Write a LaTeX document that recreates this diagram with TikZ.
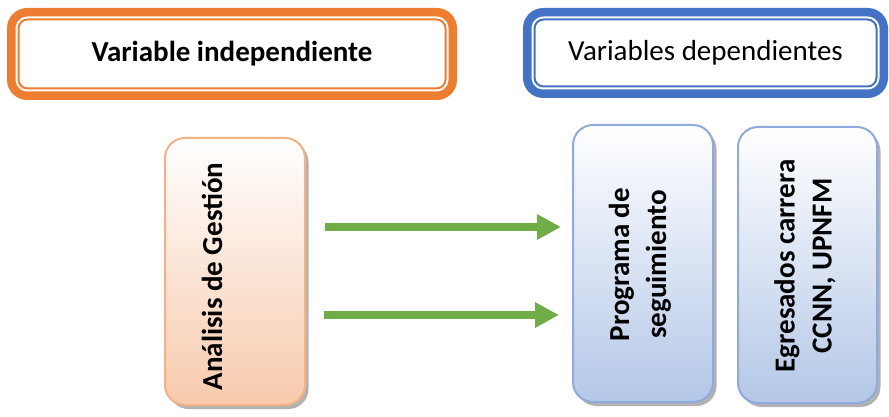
\documentclass[tikz,border=0pt]{standalone}
\usepackage{fontspec}
\setmainfont{Carlito}
\usetikzlibrary{arrows.meta,shadows}
\definecolor{hdrorange}{HTML}{ED7D31}
\definecolor{hdrblue}{HTML}{4472C4}
\definecolor{arrowgreen}{HTML}{70AD47}
\definecolor{peachline}{HTML}{F4B183}
\definecolor{peachfill}{HTML}{F7CAAC}
\definecolor{blueline}{HTML}{8FAADC}
\definecolor{bluefill}{HTML}{B4C7E7}
\tikzset{
  hdrbox/.style={draw=#1, line width=8.5pt, rounded corners=16pt, fill=white,
    inner sep=0pt, font=\fontsize{29}{35}\selectfont},
  hdrinner/.style={draw=#1, line width=2pt, rounded corners=9pt},
  varbox/.style={rounded corners=20pt, line width=2pt, inner sep=0pt,
    drop shadow={shadow xshift=3.5pt, shadow yshift=-4pt, fill=black, opacity=0.3}},
  indep/.style={varbox, draw=peachline, top color=white, bottom color=peachfill},
  dep/.style={varbox, draw=blueline, top color=white, bottom color=bluefill},
  vtext/.style={rotate=90, font=\fontsize{29}{37}\selectfont\bfseries, align=center},
  bigarrow/.style={draw=arrowgreen, line width=8pt, -{Triangle[length=24pt,width=24pt]}}
}
\begin{document}
\begin{tikzpicture}[x=1pt,y=-1pt]
\useasboundingbox (0,0) rectangle (889,417);
% header boxes
\node[hdrbox=hdrorange, minimum width=441.5pt, minimum height=83.5pt] (hind) at (232,54) {\bfseries Variable independiente};
\draw[hdrinner=hdrorange] ([shift={(11.5pt,-11.5pt)}]hind.north west) rectangle ([shift={(-11.5pt,11.5pt)}]hind.south east);
\node[hdrbox=hdrblue, minimum width=356.5pt, minimum height=81.5pt] (hdep) at (705.5,53) {Variables dependientes};
\draw[hdrinner=hdrblue] ([shift={(11.5pt,-11.5pt)}]hdep.north west) rectangle ([shift={(-11.5pt,11.5pt)}]hdep.south east);
% variable boxes
\node[indep, minimum width=140pt, minimum height=267pt] (ana) at (235,271.5) {};
\node[vtext] (anat) at (212,276.5) {Análisis de Gestión};
\node[dep, minimum width=140pt, minimum height=277pt] (prog) at (643,263.5) {};
\node[vtext] (progt) at (640,264.5) {Programa de\\seguimiento};
\node[dep, minimum width=139pt, minimum height=276pt] (egr) at (807.5,265) {};
\node[vtext] (egrt) at (805,266) {Egresados carrera\\CCNN, UPNFM};
% arrows
\coordinate (a1s) at (325,227);
\coordinate (a1e) at (561,227);
\coordinate (a2s) at (324,315);
\coordinate (a2e) at (559,315);
\draw[bigarrow] (a1s) -- (a1e);
\draw[bigarrow] (a2s) -- (a2e);
\end{tikzpicture}
\end{document}
